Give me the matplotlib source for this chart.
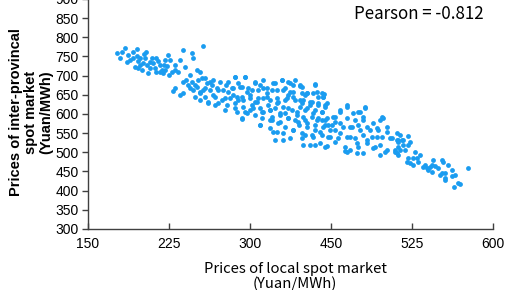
"""Streudiagramm: lokale Spotpreise gegen provinzübergreifende Spotpreise."""

import matplotlib
matplotlib.use('Agg')
import matplotlib.pyplot as plt

# Werte (Yuan/MWh)
local_price = [
    182, 191, 204, 194, 197, 204, 206, 206, 212, 213, 211, 216, 217, 221, 222, 224,
    228, 230, 232, 236, 238, 241, 243, 240, 233, 250, 256, 266, 267, 278, 258, 263,
    271, 274, 244, 256, 256, 261, 266, 267, 269, 272, 277, 278, 274, 280, 283, 271,
    282, 263, 186, 200, 208, 219, 226, 236, 247,
    280, 289, 297, 306, 313, 324, 317, 336, 341, 358, 366, 372, 378, 386, 380, 286,
    293, 300, 310, 321, 332, 344, 354, 367, 374, 388, 283, 291, 302, 311, 321, 330,
    339, 349, 360, 369, 378, 386, 294, 304, 313, 322, 332, 341, 350, 358, 367, 377,
    386, 316, 327, 336, 344, 354, 363, 372, 382, 321, 341, 352, 360, 369, 378, 388,
    354, 367, 389, 363,
    288, 306, 317, 327, 336, 349, 352, 360, 372, 380, 330, 343, 369, 384, 374, 358,
    402, 388, 393, 400, 410, 411, 389, 399, 406, 413, 393, 402, 410, 438, 430, 450,
    458, 389, 399, 406, 416, 424, 438, 447, 456, 474, 478, 393, 402, 411, 421, 430,
    441, 450, 460, 471, 482, 391, 400, 410, 419, 428, 438, 447, 456, 466, 477, 488,
    494, 402, 413, 424, 436, 441, 450, 460, 467, 474, 482, 491, 449, 474, 494, 436,
    391, 397, 406, 391, 413, 402, 424,
    506, 493, 499, 500, 506, 494, 493, 497, 506, 511, 516, 504, 508, 511, 522, 527,
    530, 533, 532, 536, 528, 532, 543, 544, 543, 547, 547, 547, 554, 554, 572, 563,
    557,
    # dichter Kernbereich
    313, 324, 336, 344, 356, 366, 374, 386, 402, 311, 319, 328, 339, 349, 360, 369,
    378, 393, 404, 411, 308, 316, 322, 330, 338, 344, 352, 361, 371, 380, 388, 397,
    406, 416, 313, 324, 333, 343, 352, 363, 372, 382, 391, 400, 410, 321, 341, 352,
    361, 372, 383, 393, 404, 413, 356, 367, 378, 388, 399, 408, 417, 397, 408,
    412, 413, 422, 430, 438, 444, 452, 458, 456, 467, 477, 482, 493, 500, 419, 430,
    441, 449, 460, 469, 480, 491, 415, 438, 456, 471, 486, 494, 410, 417, 424, 433,
    443, 452, 463, 472,
    188, 193, 200, 208, 214, 219, 226, 230, 234, 239, 247, 252, 210, 202,
    247, 252, 259, 269, 274, 280, 286, 289, 294, 299, 303, 291, 302, 274,
    497, 502, 508, 513, 517, 519, 524, 539, 541, 550, 558, 561,
]
interprov_price = [
    759, 772, 769, 754, 741, 751, 738, 720, 756, 746, 733, 728, 707, 746, 733, 720,
    738, 728, 715, 741, 725, 741, 709, 701, 707, 709, 767, 759, 746, 777, 722, 701,
    715, 709, 660, 683, 655, 675, 683, 662, 644, 688, 694, 662, 655, 644, 628, 670,
    681, 668, 746, 761, 746, 736, 709, 715, 728,
    694, 688, 683, 683, 696, 696, 681, 681, 675, 681, 688, 683, 675, 673, 688, 662,
    668, 662, 668, 670, 662, 668, 662, 662, 657, 655, 631, 644, 642, 649, 644, 649,
    642, 644, 642, 636, 644, 636, 628, 623, 628, 618, 623, 615, 623, 615, 618, 610,
    618, 605, 602, 597, 605, 592, 597, 589, 597, 587, 571, 563, 553, 566, 558, 550,
    584, 532, 519, 579,
    675, 657, 636, 657, 631, 655, 610, 628, 649, 584, 610, 589, 602, 571, 537, 532,
    678, 670, 655, 655, 655, 644, 636, 631, 628, 623, 615, 610, 605, 618, 605, 605,
    615, 592, 592, 589, 589, 592, 589, 584, 592, 584, 589, 566, 571, 566, 571, 576,
    566, 571, 566, 563, 553, 545, 540, 545, 540, 537, 540, 537, 545, 540, 540, 537,
    532, 519, 514, 527, 514, 506, 514, 524, 511, 519, 506, 501, 498, 493, 493, 504,
    649, 623, 644, 584, 584, 558, 558,
    542, 532, 532, 519, 519, 514, 498, 506, 485, 485, 485, 475, 472, 467, 462, 459,
    462, 480, 467, 464, 454, 449, 480, 475, 446, 446, 433, 428, 454, 438, 459, 417,
    409,
    # dichter Kernbereich
    696, 696, 683, 688, 681, 688, 681, 675, 675, 668, 670, 668, 662, 668, 662, 668,
    657, 655, 657, 644, 642, 644, 636, 642, 631, 642, 636, 631, 642, 636, 628, 631,
    623, 628, 615, 605, 615, 605, 610, 602, 615, 605, 610, 602, 605, 589, 571, 584,
    576, 589, 579, 576, 584, 571, 553, 550, 558, 537, 545, 553, 540, 519, 524,
    652, 618, 592, 610, 623, 602, 605, 618, 584, 576, 592, 566, 550, 532, 558, 550,
    540, 524, 532, 514, 501, 506, 516, 501, 498, 540, 537, 527, 584, 571, 579, 566,
    566, 558, 558, 558,
    761, 735, 746, 728, 761, 720, 746, 709, 728, 754, 715, 741, 715, 722,
    668, 649, 688, 675, 636, 668, 683, 649, 662, 636, 675, 623, 610, 657,
    545, 506, 527, 501, 475, 493, 467, 459, 441, 467, 441, 420,
]

x_ticks = [150, 240, 330, 420, 510, 600]
x_tick_labels = ['150', '225', '300', '450', '525', '600']
y_ticks = list(range(300, 901, 50))

pearson_text = 'Pearson = -0.812'

fig = plt.figure(figsize=(5.05, 2.9), dpi=100)
ax = fig.add_axes([88 / 505, 61 / 290, 405 / 505, 230 / 290])

ax.scatter(local_price, interprov_price, s=12, color='#1a9cf0', linewidths=0, zorder=3)

ax.set_xlim(150, 600)
ax.set_ylim(300, 900)
ax.set_xticks(x_ticks)
ax.set_xticklabels(x_tick_labels)
ax.set_yticks(y_ticks)

for side in ('top', 'right'):
    ax.spines[side].set_visible(False)
for side in ('left', 'bottom'):
    ax.spines[side].set_color('#404040')
    ax.spines[side].set_linewidth(1.0)

ax.tick_params(axis='x', direction='in', length=4, width=1.0, color='#404040',
               pad=5.5, labelsize=10)
ax.tick_params(axis='y', direction='out', length=4, width=1.0, color='#404040',
               pad=2.5, labelsize=10)
for lbl in ax.get_xticklabels() + ax.get_yticklabels():
    lbl.set_fontfamily('Liberation Sans')

fig.text(295 / 505, 1 - 288 / 290, 'Prices of local spot market\n(Yuan/MWh)',
         ha='center', va='baseline', multialignment='center', linespacing=1.05,
         fontsize=10.7, fontweight='medium', family=['Noto Sans CJK SC', 'DejaVu Sans'])
fig.text(31 / 505, 1 - 112 / 290, 'Prices of inter-provincal\nspot market\n(Yuan/MWh)',
         ha='center', va='center', multialignment='center', rotation=90,
         fontsize=10.5, fontweight='bold', family='Liberation Sans', linespacing=1.1)
fig.text(419 / 505, 1 - 14 / 290, pearson_text, ha='center', va='center',
         fontsize=12.2, fontweight='medium', family=['Noto Sans CJK SC', 'DejaVu Sans'])

fig.savefig('out.png', dpi=100)
plt.close(fig)
